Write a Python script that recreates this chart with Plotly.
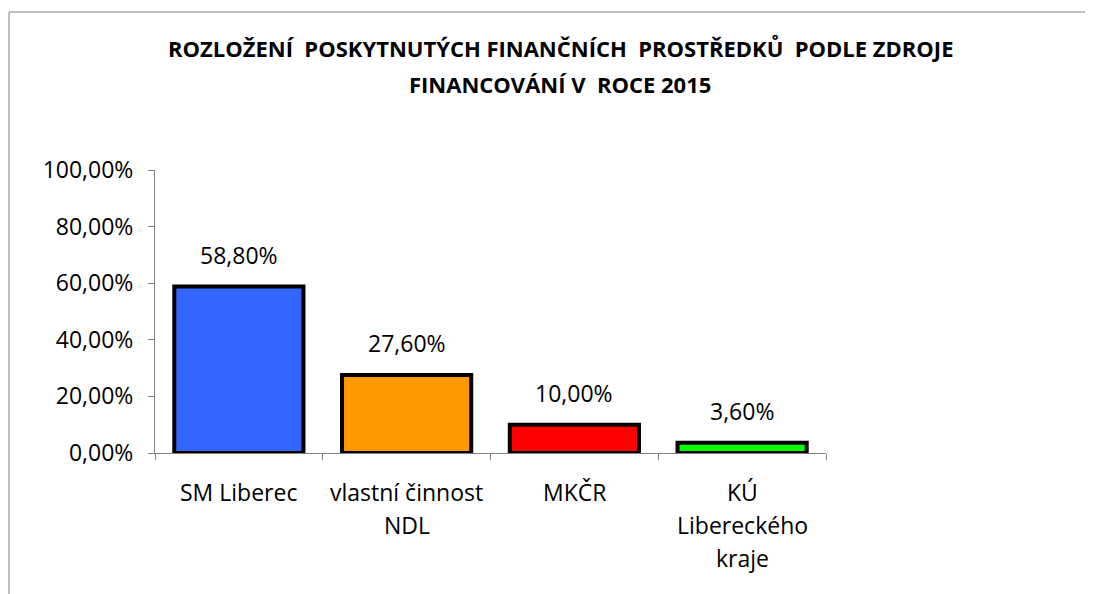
import plotly.graph_objects as go

categories = ["SM Liberec", "vlastní činnost<br>NDL", "MKČR", "KÚ<br>Libereckého<br>kraje"]
values = [0.588, 0.276, 0.100, 0.036]
colors = ["#3366FF", "#FF9900", "#FF0000", "#00FF00"]
y_ticks = [0, 0.2, 0.4, 0.6, 0.8, 1.0]
title_lines = ["ROZLOŽENÍ  POSKYTNUTÝCH FINANČNÍCH  PROSTŘEDKŮ  PODLE ZDROJE",
               "FINANCOVÁNÍ V  ROCE 2015"]

FONT = "Open Sans"
# page body has an 8px margin; figure is laid out in reference pixels minus 8
W, H = 1085, 586
PX0, PX1 = 155 - 8, 826 - 8      # plot area x in figure px
PY0, PY1 = 170 - 8, 453 - 8      # plot area y (top, bottom) in figure px
PW, PH = PX1 - PX0, PY1 - PY0


def px_x(x):
    return (x - 8 - PX0) / PW


def px_y(y):
    return (PY1 - (y - 8)) / PH


fig = go.Figure()
fig.add_trace(go.Bar(
    x=categories, y=values,
    marker=dict(color=colors, line=dict(color="black", width=4)),
    width=0.77,
    hoverinfo="skip",
))

for c, v in zip(categories, values):
    fig.add_annotation(x=c, y=v, text=f"{v*100:.2f}%".replace(".", ","),
                       showarrow=False, yanchor="bottom", yshift=14,
                       font=dict(family=FONT, size=23, color="black"))

# category labels, one annotation per line (Excel-like line spacing)
for c in categories:
    for i, part in enumerate(c.split("<br>")):
        fig.add_annotation(x=c, y=0, text=part, showarrow=False,
                           xanchor="center", yanchor="middle", yshift=-(39 + 33 * i),
                           font=dict(family=FONT, size=23, color="black"))

for line, ypx in zip(title_lines, [48, 84]):
    fig.add_annotation(xref="paper", yref="paper", x=px_x(560), y=px_y(ypx),
                       xanchor="center", yanchor="middle", showarrow=False,
                       text=f"<b>{line}</b>",
                       font=dict(family=FONT, size=22, color="black"))

fig.update_layout(
    width=W, height=H,
    margin=dict(l=PX0, r=W - PX1, t=PY0, b=H - PY1, pad=0),
    paper_bgcolor="white", plot_bgcolor="white",
    separators=", ",
    showlegend=False,
    font=dict(family=FONT, size=23, color="black"),
    xaxis=dict(showline=True, linecolor="#808080", linewidth=1,
               ticks="outside", tickson="boundaries", ticklen=6, tickcolor="#808080",
               showticklabels=False, showgrid=False),
    yaxis=dict(range=[0, 1], tickvals=y_ticks, tickformat=".2%",
               showline=True, linecolor="#808080", linewidth=1,
               ticks="outside", ticklen=6, tickcolor="#808080",
               ticklabelstandoff=10, showgrid=False, zeroline=False,
               tickfont=dict(family=FONT, size=23, color="black")),
    shapes=[dict(type="rect", xref="paper", yref="paper",
                 x0=px_x(9), x1=px_x(1200), y0=px_y(700), y1=px_y(12),
                 line=dict(color="#808080", width=1), fillcolor="rgba(0,0,0,0)", layer="below")],
)

fig.write_html("out.html")
